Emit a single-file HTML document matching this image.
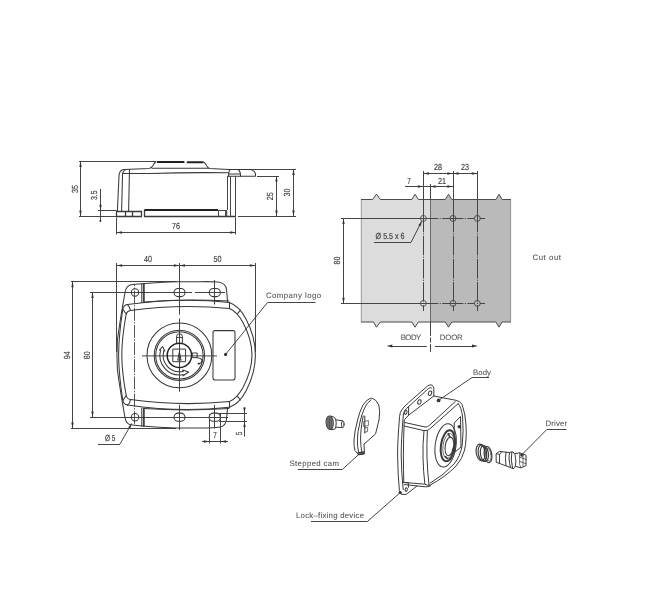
<!DOCTYPE html>
<html lang="en">
<head>
<meta charset="utf-8">
<title>Lock dimensions</title>
<style>
html,body{margin:0;padding:0;background:#fff;}
body{width:650px;height:589px;overflow:hidden;position:relative;}
svg{position:absolute;left:0;top:0;display:block;filter:grayscale(1);}
.l{fill:none;stroke:#383838;stroke-width:1.05;stroke-linecap:round;stroke-linejoin:round;}
.k{fill:none;stroke:#222;stroke-width:1.5;stroke-linecap:round;stroke-linejoin:round;}
.d{fill:none;stroke:#454545;stroke-width:1;}
.c{fill:none;stroke:#333;stroke-width:.8;stroke-dasharray:9 1.6 1.6 1.6;}
.a{fill:#333;stroke:none;}
text{font-family:"Liberation Sans",sans-serif;fill:#4a4a4a;text-rendering:geometricPrecision;}
.n{font-size:8.8px;fill:#3c3c3c;stroke:#3c3c3c;stroke-width:.15;}
.t{font-size:7.8px;fill:#505050;stroke:#505050;stroke-width:.06;}
</style>
</head>
<body>
<svg width="650" height="589" viewBox="0 0 650 589">

<!-- ================= SIDE VIEW ================= -->
<g id="side">
<!-- dimension 35 -->
<path class="d" d="M79 161.5L156 161.5M79 216.5L116.4 216.5M80.5 161.4L80.5 216.2"/>
<path class="a" d="M0 0L-5.6-1.2V1.2Z" transform="translate(80.5 161.4) rotate(-90)"/>
<path class="a" d="M0 0L-5.6-1.2V1.2Z" transform="translate(80.5 216.2) rotate(90)"/>
<text class="n" transform="translate(78 188.9) rotate(-90)" text-anchor="middle" textLength="8.0" lengthAdjust="spacingAndGlyphs">35</text>
<!-- dimension 3.5 -->
<path class="d" d="M100.5 189L100.5 221M98 210.5L116.4 210.5"/>
<path class="a" d="M0 0L-5.6-1.2V1.2Z" transform="translate(100.5 210.4) rotate(90)"/>
<circle class="a" cx="100.4" cy="221" r="1"/>
<text class="n" transform="translate(97.4 195.2) rotate(-90)" text-anchor="middle" textLength="9.6" lengthAdjust="spacingAndGlyphs">3.5</text>
<!-- dimension 76 -->
<path class="d" d="M116.5 217.5L116.5 234.5M235.5 217.5L235.5 234.5M116.4 232.5L235.8 232.5"/>
<path class="a" d="M0 0L-5.6-1.2V1.2Z" transform="translate(116.4 232.5) rotate(180)"/>
<path class="a" d="M0 0L-5.6-1.2V1.2Z" transform="translate(235.8 232.5)"/>
<text class="n" x="176" y="229" text-anchor="middle" textLength="8.0" lengthAdjust="spacingAndGlyphs">76</text>
<!-- dimension 25 / 30 -->
<path class="d" d="M250 169.5L296 169.5M238 216.5L296 216.5M257 176.5L279 176.5M293.5 169.4L293.5 216.2M276.5 176.2L276.5 216.2"/>
<path class="a" d="M0 0L-5.6-1.2V1.2Z" transform="translate(293.5 169.4) rotate(-90)"/>
<path class="a" d="M0 0L-5.6-1.2V1.2Z" transform="translate(293.5 216.2) rotate(90)"/>
<path class="a" d="M0 0L-5.6-1.2V1.2Z" transform="translate(276.5 176) rotate(-90)"/>
<path class="a" d="M0 0L-5.6-1.2V1.2Z" transform="translate(276.5 216.2) rotate(90)"/>
<text class="n" transform="translate(273.4 196.2) rotate(-90)" text-anchor="middle" textLength="8.0" lengthAdjust="spacingAndGlyphs">25</text>
<text class="n" transform="translate(290.4 192.6) rotate(-90)" text-anchor="middle" textLength="8.0" lengthAdjust="spacingAndGlyphs">30</text>
<!-- body -->
<path class="l" d="M117.4 211L119 176Q119.2 170 124 169.6L149 168.4Q151.6 168.2 153 165.6Q154.6 162.4 156 161.8"/>
<path class="l" d="M152 168.2H208.4"/>
<path class="k" d="M157 162H184.4M186.8 162.2H203.4" style="stroke-width:2;stroke-linecap:butt"/>
<path class="l" d="M203.6 162Q205.4 163 206.4 165.4Q207.6 168 209.6 168.4L229 169.4"/>
<path class="l" d="M121.6 211L122.5 175Q122.7 170.4 126 169.6"/>
<path class="l" d="M122.5 173.5H150Q190 172.2 228 172.8"/>
<path class="l" d="M128.6 211L129.5 169.6"/>
<!-- base -->
<path class="d" d="M116 211.5L142 211.5M116 216.5L142 216.5M116.5 211.2L116.5 216.2M125.5 211.2L125.5 216.2M132.5 211.2L132.5 216.2M141.5 211.2L141.5 216.2M144.5 209.6L144.5 216.6M144 216.5L236 216.5" style="stroke:#3a3a3a;stroke-width:1.3"/>
<path class="k" d="M144.6 210H218" style="stroke-width:2;stroke-linecap:butt"/>
<path class="d" d="M218 210.5L227 210.5M218.5 211L218.5 216.2M225.5 211L225.5 216.2"/>
<path class="d" d="M226.5 211L226.5 216" style="stroke-width:1.6;stroke:#555"/>
<!-- right wall -->
<path class="d" d="M227.5 176.2L227.5 210M230.5 176.2L230.5 216M235.5 176.2L235.5 216.6"/>
<!-- flange -->
<path class="l" d="M229 169.5H250.6Q254.6 170.4 255.6 174.4L255.4 176.2H227.6"/>
<path class="l" d="M238.2 169.5Q240.6 171.4 240.6 176.2M229.8 169.5Q228.2 173 228.6 176.2M229 174H240.4"/>
</g>

<!-- ================= PLAN VIEW ================= -->
<g id="plan">
<!-- dimensions 40 / 50 -->
<path class="d" d="M116.5 263L116.5 352M255.5 263L255.5 352M179.5 263L179.5 270"/>
<path class="d" d="M116.5 265.5L255.4 265.5"/>
<path class="a" d="M0 0L-5.6-1.2V1.2Z" transform="translate(116.5 265.5) rotate(180)"/>
<path class="a" d="M0 0L-5.6-1.2V1.2Z" transform="translate(179.4 265.5)"/>
<path class="a" d="M0 0L-5.6-1.2V1.2Z" transform="translate(179.4 265.5) rotate(180)"/>
<path class="a" d="M0 0L-5.6-1.2V1.2Z" transform="translate(255.4 265.5)"/>
<text class="n" x="148" y="262" text-anchor="middle" textLength="8.0" lengthAdjust="spacingAndGlyphs">40</text>
<text class="n" x="217.4" y="262" text-anchor="middle" textLength="8.0" lengthAdjust="spacingAndGlyphs">50</text>
<!-- dimensions 94 / 80 -->
<path class="d" d="M71 281.5L176 281.5M71 428.5L176 428.5M72.5 281.6L72.5 428.2"/>
<path class="d" d="M90 292.5L131 292.5M90 417.5L131 417.5M92.5 292.5L92.5 417.2"/>
<path class="a" d="M0 0L-5.6-1.2V1.2Z" transform="translate(72.5 281.6) rotate(-90)"/>
<path class="a" d="M0 0L-5.6-1.2V1.2Z" transform="translate(72.5 428.2) rotate(90)"/>
<path class="a" d="M0 0L-5.6-1.2V1.2Z" transform="translate(92.5 292.5) rotate(-90)"/>
<path class="a" d="M0 0L-5.6-1.2V1.2Z" transform="translate(92.5 417.2) rotate(90)"/>
<text class="n" transform="translate(70 355.3) rotate(-90)" text-anchor="middle" textLength="8.0" lengthAdjust="spacingAndGlyphs">94</text>
<text class="n" transform="translate(90 355.3) rotate(-90)" text-anchor="middle" textLength="8.0" lengthAdjust="spacingAndGlyphs">80</text>
<!-- centre lines -->
<path class="d" d="M179.5 270L179.5 314.7M179.5 318.5L179.5 391.7M179.5 404.7L179.5 430"/>
<path class="d" d="M134.5 284.5L134.5 426" style="stroke:#555;stroke-dasharray:13 1.4 1.4 1.4;stroke-dashoffset:-6"/>
<path class="d" d="M131 292.5L192 292.5M195 292.5L225 292.5M131 417.5L228 417.5"/>
<path class="d" d="M214.5 280L214.5 304.5M214.5 405L214.5 428.6"/>

<!-- outer outline / brackets -->
<path class="l" d="M176 281.7Q150 282.8 132.5 284.4Q126 285 125 292.5Q120.4 318 117.4 340Q116.5 355 117.4 370Q120.4 392 125 417.5Q126 424 131 424.8L142 426Q160 427.6 176 428H200Q214 428 220 427Q226 426 226.5 419L227.5 408.5"/>
<path class="l" d="M176 281.7H200Q212 281.5 218 282Q226 283 226.6 290L227.5 301.5"/>
<path class="l" d="M141.8 284V302.5M141.8 408V426"/>
<path class="k" d="M143.9 284V302M143.9 408.5V426"/>
<!-- body -->
<path class="l" d="M127.4 304.6Q180 297 229.5 302.4"/>
<path class="l" d="M144 302Q185 298.4 229 301"/>
<path class="l" d="M130.5 310.5Q180 303.5 229.5 308.6V302.4"/>
<path class="l" d="M127.4 304.6Q123.6 305.2 122.8 309Q118.8 335 118.6 355Q118.8 375 122.8 400.6Q123.6 404.4 127.5 405"/>
<path class="l" d="M130.5 310.5Q127 311 126.2 314Q121.8 338 121.8 355Q121.8 372 126.2 395.5Q127 399 130.5 399.6"/>
<path class="l" d="M127.4 304.6Q129.8 306.5 130.5 310.5M127.5 405Q130 403.5 130.5 399.6"/>
<path class="l" d="M122.8 309Q124.6 312 126.2 314M122.8 400.6Q124.6 398 126.2 395.5"/>
<path class="l" d="M130.5 399.6Q180 406.5 229.5 401.6V407.2"/>
<path class="l" d="M127.5 405Q180 412.8 229.5 407.2"/>
<path class="l" d="M144 408.5Q185 411.4 229 408.6"/>
<path class="l" d="M229.5 302.6C236 305 241.5 310.5 246 319C251.5 329.5 255.4 342 255.4 355C255.4 368 251.5 380.5 246 391C241.5 399.5 236 405 229.5 407.2"/>
<path class="l" d="M229.5 308.6C234.5 310.6 239 315.5 243 322.5C248 332 252 343 252 355C252 367 248 378 243 387.5C239 394.5 234.5 399.5 229.5 401.6"/>
<path class="l" d="M240.4 310L237.6 313.6M240.4 400L237.6 396.4"/>
<!-- holes -->
<circle class="l" cx="135" cy="292.5" r="3.7"/><circle class="l" cx="135" cy="417.2" r="3.7"/>
<rect class="l" x="174" y="288.4" width="11" height="8.2" rx="4.1"/>
<rect class="l" x="209.2" y="288.4" width="11.2" height="8.2" rx="4.1"/>
<rect class="l" x="174" y="413.1" width="11" height="8.2" rx="4.1"/>
<rect class="l" x="209.2" y="413.1" width="11.2" height="8.2" rx="4.1"/>
<!-- logo plate -->
<rect class="l" x="213" y="330.6" width="22" height="49.4" rx="2"/>
<!-- cylinder -->
<g transform="translate(0 .4)">
<path class="d" d="M142 355.5L217 355.5"/>
<circle class="l" cx="179.4" cy="355" r="32.4"/>
<circle class="l" cx="179.4" cy="355" r="25.2"/>
<circle class="l" cx="179.4" cy="355" r="23.7"/>
<circle class="k" cx="179.4" cy="355" r="12.2"/>
<path class="l" d="M176.6 343V336Q176.6 333.4 179.5 333.4Q182.4 333.4 182.4 336V343M176.6 337H182.4" style="stroke-width:1"/>
<rect class="l" x="173.2" y="348.7" width="12.4" height="12.6" style="stroke-width:1"/>
<path class="l" d="M179.4 351.5L177.8 359.6H181L179.4 351.5Z"/>
<rect class="l" x="192.6" y="352.6" width="4.6" height="4.6" style="stroke-width:1"/>
<path class="l" d="M197.2 357.4Q201.6 357.8 202 360.4Q202 362.6 199 363.2" style="stroke-width:1.1"/>
<circle class="a" cx="198.6" cy="363.3" r="1"/>
<!-- rotation arrows -->
<path class="l" d="M160.6 349.8A19.6 19.6 0 0 0 183 374.3M163.8 350.4A16.4 16.4 0 0 0 183 371"/>
<path class="l" d="M160.6 349.8L159.4 349.6L162.6 346.2L164.8 350.6L163.8 350.4M183 374.3L183.2 375.4L188.6 371.6L182.8 369.6L183 371"/>
</g>
<!-- leaders -->
<path class="d" d="M225.6 354.4L267.5 302.5M267.5 302.5L315.5 302.5"/>
<circle class="a" cx="225.6" cy="354.4" r="1.6"/>
<text class="t" x="266" y="297.8" textLength="55" lengthAdjust="spacing">Company logo</text>
<path class="d" d="M98 444.5L120 444.5M120 444L131.6 423.6"/>
<path class="a" d="M0 0L-5.6-1.2V1.2Z" transform="translate(132 423) rotate(-60)"/>
<text class="n" x="105" y="441" textLength="10.4" lengthAdjust="spacingAndGlyphs">Ø 5</text>
<!-- dimensions 7 / 5 -->
<path class="d" d="M209.5 414L209.5 443.5M220.5 414L220.5 443.5M202 441.5L228 441.5"/>
<path class="a" d="M0 0L-5.6-1.2V1.2Z" transform="translate(209.5 441.5)"/>
<path class="a" d="M0 0L-5.6-1.2V1.2Z" transform="translate(220.5 441.5) rotate(180)"/>
<text class="n" x="215" y="437.6" text-anchor="middle" textLength="3.6" lengthAdjust="spacingAndGlyphs">7</text>
<path class="d" d="M219 413.5L247 413.5M219 421.5L247 421.5M244.5 407.5L244.5 436.5"/>
<path class="a" d="M0 0L-5.6-1.2V1.2Z" transform="translate(244.5 413.2) rotate(90)"/>
<path class="a" d="M0 0L-5.6-1.2V1.2Z" transform="translate(244.5 421.5) rotate(-90)"/>
<text class="n" transform="translate(241.6 433.5) rotate(-90)" text-anchor="middle" textLength="3.6" lengthAdjust="spacingAndGlyphs">5</text>
</g>

<!-- ================= CUT OUT ================= -->
<g id="cutout">
<path d="M361 199.5H372.6L376.5 194.2L380.4 199.5H411.9L415 194.3L418.4 199.5H430V322H418.4L415 327.2L411.9 322H380.2L376.5 327.2L373.5 322H361Z" fill="#dbdcdd"/>
<path d="M430 199.5H445.2L448.5 194.3L451.8 199.5H495.8L499 194.3L502.2 199.5H511V322H502.2L499 327.2L495.8 322H451.8L448.5 327.2L445.2 322H430Z" fill="#b9babc"/>
<path d="M361.3 322V199.5" stroke="#999" stroke-width="1" fill="none"/>
<path d="M361 199.5H372.6L376.5 194.2L380.4 199.5H411.9L415 194.3L418.4 199.5H445.2L448.5 194.3L451.8 199.5H495.8L499 194.3L502.2 199.5H511" stroke="#4a4a4a" stroke-width="1" fill="none" stroke-linejoin="round"/>
<path d="M361 322H373.5L376.5 327.2L380.2 322H411.9L415 327.2L418.4 322H445.2L448.5 327.2L451.8 322H495.8L499 327.2L502.2 322H511" stroke="#4a4a4a" stroke-width="1" fill="none" stroke-linejoin="round"/>
<path d="M510.6 199.5V322" stroke="#808080" stroke-width=".7" fill="none"/>
<!-- holes -->
<g class="l" style="stroke-width:.8">
<circle cx="423.4" cy="218.4" r="3"/><circle cx="453" cy="218.4" r="3"/><circle cx="477.4" cy="218.4" r="3"/>
<circle cx="423.4" cy="303.4" r="3"/><circle cx="453" cy="303.4" r="3"/><circle cx="477.4" cy="303.4" r="3"/>
</g>
<!-- extension + centre lines -->
<path class="d" d="M423.5 171L423.5 214M453.5 171L453.5 214M477.5 171L477.5 214M430.5 184L430.5 200"/>
<path class="d" d="M341 218.5L417 218.5M341 303.5L417 303.5"/>
<path class="d" d="M423.5 214L423.5 311M453.5 214L453.5 311M477.5 214L477.5 311" style="stroke-dasharray:19.5 1.2 1.2 1.2;stroke-dashoffset:1.2"/>
<path class="d" d="M430.5 200L430.5 322" style="stroke-width:.7"/><path class="d" d="M430.5 322L430.5 352" style="stroke-dasharray:14 1.6 5 1.6"/>
<path class="d" d="M417 218.5L438.2 218.5M439.6 218.5L440.8 218.5M442.2 218.5L463.4 218.5M464.8 218.5L466 218.5M467.4 218.5L474.4 218.5M480.4 218.5L485 218.5M417 303.5L438.2 303.5M439.6 303.5L440.8 303.5M442.2 303.5L463.4 303.5M464.8 303.5L466 303.5M467.4 303.5L474.4 303.5M480.4 303.5L485 303.5"/>
<!-- dims -->
<path class="d" d="M423.4 173.5L477.4 173.5M405 186.5L453 186.5M343.5 218.4L343.5 303.4"/>
<path class="a" d="M0 0L-5.6-1.2V1.2Z" transform="translate(423.4 173.5) rotate(180)"/>
<path class="a" d="M0 0L-5.6-1.2V1.2Z" transform="translate(453 173.5)"/>
<path class="a" d="M0 0L-5.6-1.2V1.2Z" transform="translate(453 173.5) rotate(180)"/>
<path class="a" d="M0 0L-5.6-1.2V1.2Z" transform="translate(477.4 173.5)"/>
<path class="a" d="M0 0L-5.6-1.2V1.2Z" transform="translate(423.4 186.5)"/>
<path class="a" d="M0 0L-5.6-1.2V1.2Z" transform="translate(430 186.5) rotate(180)"/>
<path class="a" d="M0 0L-5.6-1.2V1.2Z" transform="translate(453 186.5)"/>
<path class="a" d="M0 0L-5.6-1.2V1.2Z" transform="translate(343.5 218.4) rotate(-90)"/>
<path class="a" d="M0 0L-5.6-1.2V1.2Z" transform="translate(343.5 303.4) rotate(90)"/>
<text class="n" x="438" y="170.4" text-anchor="middle" textLength="8.0" lengthAdjust="spacingAndGlyphs">28</text>
<text class="n" x="465" y="170.4" text-anchor="middle" textLength="8.0" lengthAdjust="spacingAndGlyphs">23</text>
<text class="n" x="409" y="183.6" text-anchor="middle" textLength="3.6" lengthAdjust="spacingAndGlyphs">7</text>
<text class="n" x="442" y="183.6" text-anchor="middle" textLength="8.0" lengthAdjust="spacingAndGlyphs">21</text>
<text class="n" transform="translate(340.2 260.5) rotate(-90)" text-anchor="middle" textLength="8.0" lengthAdjust="spacingAndGlyphs">80</text>
<!-- hole leader -->
<path class="d" d="M374 242.5L411 242.5M411 242.4L421.6 221.6"/>
<path class="a" d="M0 0L-5.6-1.2V1.2Z" transform="translate(422 220.8) rotate(-63)"/>
<text class="n" x="375.6" y="239.2" textLength="29" lengthAdjust="spacingAndGlyphs">Ø 5.5 x 6</text>
<!-- labels -->
<text class="t" x="400.7" y="339.5" textLength="20.5" lengthAdjust="spacing">BODY</text>
<text class="t" x="439.8" y="339.5" textLength="22.9" lengthAdjust="spacing">DOOR</text>
<path class="d" d="M391 346.5L426.8 346.5M435 346.5L474 346.5"/>
<path class="a" d="M386.5 346.1L392.3 344.6V347.6Z"/>
<path class="a" d="M477.8 346.1L472 344.6V347.6Z"/>
<text class="t" x="532.5" y="260" textLength="28.5" lengthAdjust="spacing">Cut out</text>
</g>

<!-- ================= EXPLODED VIEW ================= -->
<g id="exploded">
<!-- bolt -->
<g class="l" style="stroke:#3a3a3a;stroke-width:1">
<path d="M327.6 416.6Q325.8 418.4 326 422.6Q326.2 427.4 328.6 429.2L331.6 429.6Q333.6 426.6 333.4 422.6Q333.2 418.2 331 416.2Z" fill="#8a8a8a" stroke-width="1"/>
<path d="M328 418V428M329.6 417V429.4M331.2 416.8V429.4" stroke-width=".7" stroke="#333"/>
<path d="M331 416.2L334.6 417.4Q336.2 419.6 336.2 423Q336.2 427 334.8 429.2L331.6 429.6"/>
<path d="M335.8 419.8L342.6 420.8M335.8 427.2L342.4 427.6"/>
<ellipse cx="342.8" cy="424.2" rx="1.3" ry="3.4"/>
</g>
<!-- stepped cam -->
<g class="l" style="stroke:#3a3a3a;stroke-width:1">
<path d="M370 398.4Q366 400 363 405Q359.4 412 357.6 420Q354.4 432 354 440Q353.8 447 355 450.6L358.6 454.6L364.4 453.6L364 444Q370 439 375.5 434L379 420Q380.4 411 378.8 405Q376.4 399.4 372.6 398.4Z"/>
<path d="M371 399.8Q367 402.6 364.6 408Q361.4 415 360 422Q357.4 432 357.4 440Q357.2 447 358.6 452"/>
<path d="M363.2 416Q360.4 430 360.6 440Q360.8 447 361.8 452"/>
<path d="M364.8 416V433"/>
<path d="M364 421.4L368.4 420.6V425.6L364 426.4ZM364.6 428L367.6 427.4V431.6L364.6 432.2" stroke-width=".7"/>
<path d="M358.2 452.6L364 451.8V454L358.6 454.8Z" fill="#555"/>
</g>
<!-- body -->
<g class="l" style="stroke:#3a3a3a;stroke-width:1">
<!-- back plate / tab -->
<path d="M401.4 410.4Q400 412 399.6 416.4Q397.6 440 397.6 455Q397.8 475 399.4 490.6L401.4 494.4H406.2L417 486"/>
<path d="M403.4 414Q401.2 440 401.2 455Q401.4 473 403.2 489.6"/>
<path d="M401.4 410.4Q403 407.4 408.6 402.6L427.8 385.8Q430 384.2 432 385.2Q434 386.2 433.8 388.6V396"/>
<path d="M403.4 414Q404 410.6 406.6 408.4L428.6 388.4Q430.6 387 431.6 388"/>
<path d="M408.6 406.8V415.2L433.8 396"/>
<ellipse cx="430" cy="393.2" rx="1.6" ry="2.3" transform="rotate(20 430 393.2)"/>
<ellipse cx="419.4" cy="402" rx="1.6" ry="2.3" transform="rotate(20 419.4 402)"/>
<ellipse cx="405.8" cy="412.4" rx="1.2" ry="2" transform="rotate(15 405.8 412.4)"/>
<ellipse cx="406.2" cy="489.6" rx="1.1" ry="1.8" transform="rotate(15 406.2 489.6)"/>
<path d="M403.2 482.4L408.4 483V487.4"/>
<!-- top face -->
<path d="M433.8 396L455.4 400.2Q460.4 401 462 404.4Q465.4 413 466 425Q466.8 440 464.6 450Q462.6 458.6 456 466Q446 476.6 429.6 485.4"/>
<path d="M408.6 415.2L404.6 419.6Q403.8 421 404.2 422.4L404.4 422.4L425 427Q427.4 427.4 429.4 425.4L455.4 401.4"/>
<path d="M404 426L424 430.6Q427.8 431.4 430.4 428.4L458.2 403.6"/>
<path d="M404.2 422.4Q403.4 440 403.4 455Q403.4 470 403.8 482.4"/>
<!-- left face verticals -->
<path d="M424 430.6Q422.6 445 423 458Q423.4 472 424.8 483.6"/>
<path d="M427.4 430.6Q426.6 445 427 458Q427.6 474 429 484.8"/>
<path d="M403.8 482.4L424.8 484.2Q427 485.6 429.4 485.2"/>
<path d="M404.2 484.6L425.4 486.8Q428 487 430.4 486"/>
<!-- front face inner edge -->
<path d="M458.2 403.6Q461.4 407 462.6 417Q463.8 432 462.2 445Q460.6 456 454 464Q444 475 430.4 483"/>
<!-- logo plate -->
<path d="M454.2 436V423L460.5 416.5L461 447L455 452V448"/>
<!-- cylinder -->
<ellipse cx="445.6" cy="445.4" rx="10.4" ry="21.8" transform="rotate(8 445.6 445.4)"/>
<ellipse cx="447.9" cy="445.8" rx="7" ry="15.6" transform="rotate(8 447.9 445.8)" stroke-width="2"/>
<ellipse cx="448.6" cy="446" rx="5.6" ry="12.6" transform="rotate(8 448.6 446)" stroke-width=".7"/>
<ellipse cx="449.4" cy="446.4" rx="4.2" ry="9.4" transform="rotate(8 449.4 446.4)" stroke-width="1.1"/>
<path d="M448.2 433.6L450 437.4M454 446.6L452.4 450.6M445.4 456.6L447.6 458.8" stroke-width="1.5"/>
</g>
<circle cx="438.6" cy="400.4" r="1.9" fill="#333"/>
<circle cx="459.3" cy="426.8" r="1.8" fill="#3a3a3a"/>
<circle cx="400.2" cy="492.6" r="1.7" fill="#3a3a3a"/>
<!-- spring -->
<g class="l" style="stroke:#3a3a3a;stroke-width:1.15">
<ellipse cx="480.6" cy="452.4" rx="4.4" ry="8.4" transform="rotate(-8 480.6 452.4)"/>
<ellipse cx="482.4" cy="453" rx="4.2" ry="8.2" transform="rotate(-8 482.4 453)"/>
<ellipse cx="484.4" cy="453.6" rx="4" ry="8" transform="rotate(-8 484.4 453.6)"/>
<ellipse cx="488" cy="454.6" rx="3.8" ry="8.2" transform="rotate(-8 488 454.6)"/>
<ellipse cx="488.4" cy="454.8" rx="2.6" ry="6.6" transform="rotate(-8 488.4 454.8)" stroke-width=".7"/>
</g>
<!-- driver -->
<g class="l" style="stroke:#3a3a3a;stroke-width:1">
<path d="M496.4 453.6L499.4 451.4L509.6 452.6Q511.6 451.6 513.2 452Q515.4 453 515.8 460Q516 466.6 514 468.4Q512.4 468.8 510.6 467.6L499.4 463.4L496.6 462.4Z"/>
<path d="M496.4 453.6L499.6 454.4L499.4 463.4M499.6 454.4L501.6 452"/>
<path d="M506 452.2Q504.8 458 506 465.6"/>
<path d="M509.6 452.6Q508 458 510.6 467.6M511.8 452Q510.4 460 512.6 468.4"/>
<path d="M515 453.6L519.6 452.8L526 455.2V465.6L521 467.8L515.6 466.4"/>
<path d="M519.6 452.8V464.4L521 467.8M519.6 457.2L526 459.4M519.6 461.4L525.8 463.6M523 454.2V466.6" stroke-width=".7"/>
</g>
<circle cx="521.8" cy="455" r="1.7" fill="#3a3a3a"/>
<!-- leaders & labels -->
<path class="d" d="M438.6 400.4L472 377.5M472 377.5L489 377.5"/>
<text class="t" x="473" y="374.6" textLength="18" lengthAdjust="spacing">Body</text>
<path class="d" d="M522 454.6L547 429.3M547 429.5L566.5 429.5"/>
<text class="t" x="545.6" y="425.8" textLength="21.4" lengthAdjust="spacing">Driver</text>
<path class="d" d="M298 469.5L342.5 469.5M342.5 469.3L358.6 454.6"/>
<text class="t" x="289.5" y="466.2" textLength="49.5" lengthAdjust="spacing">Stepped cam</text>
<path class="d" d="M311 521.5L367.6 521.5M367.6 521.3L400 492.8"/>
<text class="t" x="296" y="517.7" textLength="68" lengthAdjust="spacing">Lock–fixing device</text>
</g>
</svg>
</body>
</html>
